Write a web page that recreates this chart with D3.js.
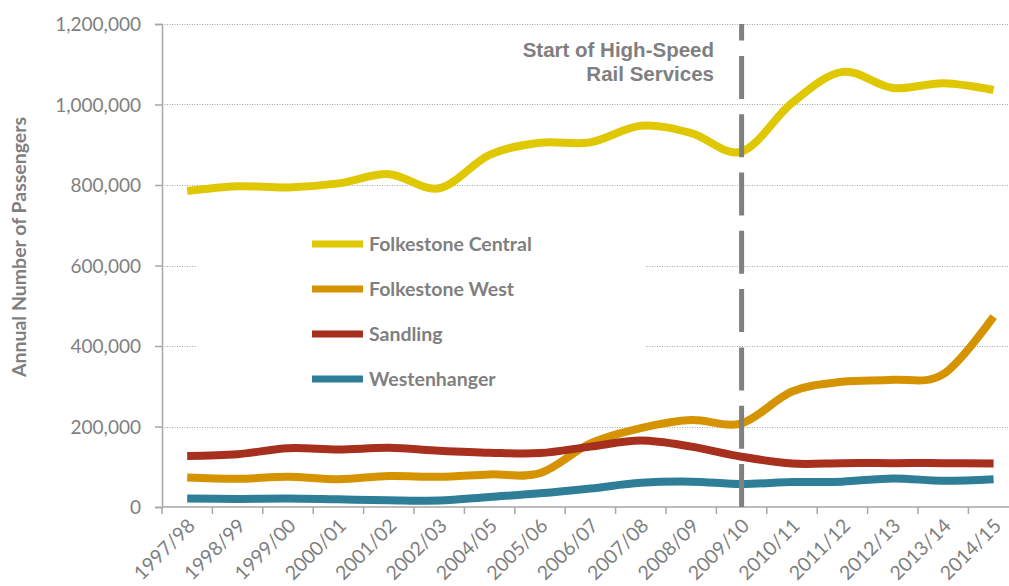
<!DOCTYPE html>
<html>
<head>
<meta charset="utf-8">
<script src="https://cdn.jsdelivr.net/npm/d3@7"></script>
<style>
  body { margin: 0; background: #fff; }
  svg { display: block; }
  .tickText { font-family: Lato, "Open Sans", sans-serif; fill: #7f7f7f; }
</style>
</head>
<body>
<script>
(function(){

//chart data
var years = ["1997/98", "1998/99", "1999/00", "2000/01", "2001/02", "2002/03", "2004/05",
             "2005/06", "2006/07", "2007/08", "2008/09", "2009/10", "2010/11", "2011/12",
             "2012/13", "2013/14", "2014/15"];

var folkestoneCentral = [785000, 797000, 794000, 804000, 827000, 792000, 875000, 905000, 906000,
                         947000, 929000, 883000, 1004000, 1081000, 1041000, 1053000, 1036000];
var folkestoneWest = [73000, 70000, 75000, 69000, 77000, 75000, 81000, 84000, 158000,
                      196000, 216000, 208000, 287000, 311000, 316000, 330000, 473000];
var sandling = [127000, 131000, 146000, 143000, 147000, 140000, 135000, 134000, 150000,
                165000, 150000, 125000, 108000, 109000, 109000, 109000, 108000];
var westenhanger = [21000, 20000, 21000, 19000, 17000, 16000, 25000, 34000, 46000,
                    60000, 63000, 57000, 62000, 63000, 71000, 65000, 69000];

var seriesNames = ["Folkestone Central", "Folkestone West", "Sandling", "Westenhanger"];
var seriesColors = ["#dfc800", "#d69300", "#a72f1e", "#2e7e98"];
var yTicks = [0, 200000, 400000, 600000, 800000, 1000000, 1200000];
var launchYear = "2009/10";
var noteLines = ["Start of High-Speed", "Rail Services"];

var seriesData = [folkestoneCentral, folkestoneWest, sandling, westenhanger];

//svg dimensions
var width = 1009,
    height = 586;

var svg = d3.select("body")
    .append("svg")
    .attr("width", width)
    .attr("height", height);

//scales
var x = d3.scaleBand()
    .domain(years)
    .range([162, 162 + 17 * 50.4])
    .padding(0);

var y = d3.scaleLinear()
    .domain([0, 1200000])
    .range([507, 24]);

function cx(d){ return x(d) + x.bandwidth() / 2; }

//dotted gridlines
svg.selectAll(".grid")
    .data(yTicks.slice(1))
    .enter()
    .append("line")
    .attr("class", "grid")
    .attr("x1", 162)
    .attr("x2", width)
    .attr("y1", function(d){ return Math.round(y(d)) + 0.5; })
    .attr("y2", function(d){ return Math.round(y(d)) + 0.5; })
    .style("stroke", "#a6a6a6")
    .style("stroke-width", 1)
    .style("stroke-dasharray", "1,1.5");

//y axis
var yAxis = svg.append("g")
    .attr("transform", "translate(162,0)")
    .call(d3.axisLeft(y)
        .tickValues(yTicks)
        .tickSize(7)
        .tickPadding(14)
        .tickFormat(d3.format(",")));

yAxis.select(".domain").style("stroke", "#a6a6a6").style("stroke-width", 1.5);
yAxis.selectAll(".tick line").style("stroke", "#a6a6a6").style("stroke-width", 1.5);
yAxis.selectAll(".tick text")
    .attr("class", "tickText")
    .style("font-size", "19px")
    .attr("dy", "0.36em");

//x axis line and ticks at band edges
var xAxis = svg.append("g").attr("class", "xAxis");

xAxis.append("line")
    .attr("x1", 162)
    .attr("x2", width)
    .attr("y1", 507)
    .attr("y2", 507)
    .style("stroke", "#a6a6a6")
    .style("stroke-width", 1.5);

var edges = years.map(function(d){ return x(d); }).concat([x.range()[1]]);

xAxis.selectAll(".xtick")
    .data(edges)
    .enter()
    .append("line")
    .attr("class", "xtick")
    .attr("x1", function(d){ return d; })
    .attr("x2", function(d){ return d; })
    .attr("y1", 507)
    .attr("y2", 514)
    .style("stroke", "#a6a6a6")
    .style("stroke-width", 1.5);

xAxis.selectAll(".xlabel")
    .data(years)
    .enter()
    .append("text")
    .attr("class", "tickText")
    .attr("text-anchor", "end")
    .style("font-size", "19.5px")
    .attr("transform", function(d){
        return "translate(" + (cx(d) + 9) + ",527) rotate(-45)";
    })
    .text(function(d){ return d; });

//y axis title
svg.append("text")
    .attr("class", "tickText")
    .attr("transform", "translate(26,247) rotate(-90)")
    .attr("text-anchor", "middle")
    .style("font-size", "19.5px")
    .style("font-weight", "bold")
    .text("Annual Number of Passengers");

//legend background covers gridlines
svg.append("rect")
    .attr("x", 197)
    .attr("y", 215)
    .attr("width", 448)
    .attr("height", 180)
    .style("fill", "#fff");

//series lines
var line = d3.line()
    .x(function(d, i){ return cx(years[i]); })
    .y(function(d){ return y(d); })
    .curve(d3.curveCatmullRom.alpha(0));

svg.selectAll(".series")
    .data(seriesData)
    .enter()
    .append("path")
    .attr("class", "series")
    .attr("d", line)
    .style("fill", "none")
    .style("stroke", function(d, i){ return seriesColors[i]; })
    .style("stroke-width", 8);

//launch marker drawn above the lines
svg.append("line")
    .attr("x1", cx(launchYear))
    .attr("x2", cx(launchYear))
    .attr("y1", 507)
    .attr("y2", 24)
    .style("stroke", "#808080")
    .style("stroke-width", 5)
    .style("stroke-dasharray", "43,15.3");

//annotation
svg.append("text")
    .attr("text-anchor", "end")
    .style("font-family", "'Liberation Sans', Arial, sans-serif")
    .style("font-size", "20.5px")
    .style("font-weight", "bold")
    .style("fill", "#7f7f7f")
    .selectAll("tspan")
    .data(noteLines)
    .enter()
    .append("tspan")
    .attr("x", 714)
    .attr("y", function(d, i){ return 57 + i * 24; })
    .text(function(d){ return d; });

//legend
var legend = svg.selectAll(".legendItem")
    .data(seriesNames)
    .enter()
    .append("g")
    .attr("class", "legendItem")
    .attr("transform", function(d, i){ return "translate(312," + (244 + i * 45) + ")"; });

legend.append("rect")
    .attr("x", 0)
    .attr("y", -3.5)
    .attr("width", 51)
    .attr("height", 7)
    .style("fill", function(d, i){ return seriesColors[i]; });

legend.append("text")
    .attr("class", "tickText")
    .attr("x", 57)
    .attr("dy", "0.36em")
    .style("font-size", "19.5px")
    .style("font-weight", "bold")
    .text(function(d){ return d; });

})();
</script>
</body>
</html>
